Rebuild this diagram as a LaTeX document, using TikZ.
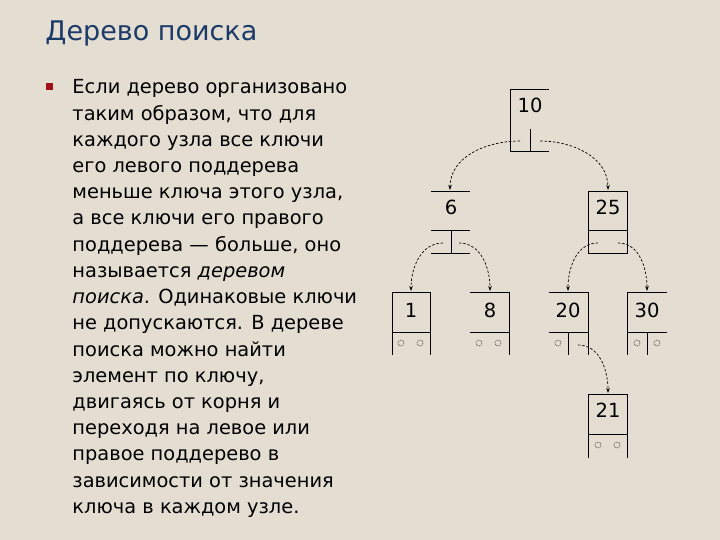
\documentclass[tikz,border=0pt]{standalone}
\usepackage{fontspec}
\setmainfont{DejaVu Sans}
\usepackage{tikz}
\usetikzlibrary{arrows.meta}
\definecolor{paper}{RGB}{228,222,210}
\definecolor{titleblue}{RGB}{28,58,104}
\definecolor{bulletred}{RGB}{160,16,26}

\begin{document}
\begin{tikzpicture}[x=1pt,y=-1pt,>={Stealth[length=5pt,width=3.5pt]},line width=0.9pt,
  key/.style={font=\fontsize{19.5}{19.5}\selectfont,inner sep=0pt},
  link/.style={->,dash pattern=on 2.5pt off 1.8pt,line width=0.7pt},
  nil/.style={black!70,dash pattern=on 1pt off 0.8pt,line width=0.6pt}]
  \fill[paper] (0,0) rectangle (720,540);
  \useasboundingbox (0,0) rectangle (720,540);
  % title and text
  \node[anchor=base west,inner sep=0pt,text=titleblue,font=\fontsize{27}{27}\selectfont] (title) at (45,41) {Дерево поиска};
  \fill[bulletred] (46,83) rectangle (53,90);
  \foreach \line [count=\i from 0] in {Если дерево организовано,
      {таким образом, что для},каждого узла все ключи,его левого поддерева,
      {меньше ключа этого узла,},а все ключи его правого,{поддерева — больше, оно},
      {называется \textit{деревом}},{\textit{поиска}. Одинаковые ключи},
      не допускаются. В дереве,поиска можно найти,{элемент по ключу,},
      двигаясь от корня и,переходя на левое или,правое поддерево в,
      зависимости от значения,ключа в каждом узле.}
    \node[anchor=base west,inner sep=0pt,font=\fontsize{19.4}{19.4}\selectfont] (t\i) at (72,94+26.2*\i) {\line};
  % node 10
  \draw (549,89) -- (510,89) -- (510,151) -- (549,151);
  \draw (530,129) -- (530,151);
  \node[key] (k10) at (530,105) {10};
  % node 6
  \draw (431,191) -- (470,191) (431,230) -- (470,230) (431,253) -- (470,253);
  \draw (451,230) -- (451,253);
  \node[key] (k6) at (451,207) {6};
  % node 25
  \draw (588,191) rectangle (627,253) (588,230) -- (627,230);
  \node[key] (k25) at (608,207) {25};
  % leaves
  \draw (392,355) -- (392,292) -- (430,292) -- (430,355) (392,332) -- (430,332);
  \node[key] (k1) at (411,310) {1};
  \draw (470,292) -- (509,292) -- (509,355) (470,332) -- (509,332);
  \node[key] (k8) at (490,310) {8};
  \draw (549,292) -- (588,292) -- (588,355) (549,332) -- (588,332) (568,332) -- (568,355);
  \node[key] (k20) at (568,310) {20};
  \draw (667,292) -- (627,292) -- (627,355) (627,332) -- (667,332) (647,332) -- (647,355);
  \node[key] (k30) at (647,310) {30};
  \draw (588,458) -- (588,394) -- (627,394) -- (627,458) (588,434) -- (627,434);
  \node[key] (k21) at (608,410) {21};
  % empty pointers
  \foreach \x/\y in {401/343,420/343,479/343,498/343,558/343,637/343,657/343,598/445,617/445}
    \draw[nil] (\x,\y) circle (3);
  % pointers
  \coordinate (p10l) at (520,141);
  \coordinate (p10r) at (540,141);
  \coordinate (p6l) at (443,243);
  \coordinate (p6r) at (459,243);
  \coordinate (p25l) at (598,243);
  \coordinate (p25r) at (618,243);
  \coordinate (p20r) at (578,345);
  \coordinate (in6) at (450,190);
  \coordinate (in25) at (608,190);
  \coordinate (in1) at (411,291);
  \coordinate (in8) at (490,291);
  \coordinate (in20) at (568,291);
  \coordinate (in30) at (647,291);
  \coordinate (in21) at (608,393);
  \draw[link] (p10l) to[out=180,in=90] (in6);
  \draw[link] (p10r) to[out=0,in=90] (in25);
  \draw[link] (p6l) to[out=180,in=90] (in1);
  \draw[link] (p6r) to[out=0,in=90] (in8);
  \draw[link] (p25l) to[out=180,in=90] (in20);
  \draw[link] (p25r) to[out=0,in=90] (in30);
  \draw[link] (p20r) to[out=0,in=90] (in21);
\end{tikzpicture}
\end{document}
